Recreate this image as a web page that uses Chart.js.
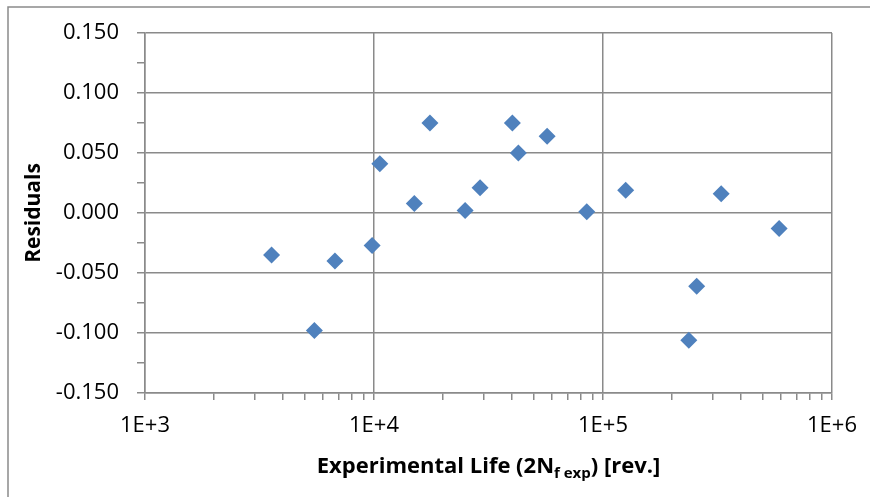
<!DOCTYPE html>
<html lang="en">
  <head>
    <meta charset="UTF-8" />
    <title>Residuals vs Experimental Life</title>
    <style>
      body {
        margin: 0;
        padding: 0;
        background-color: #fff;
      }

      .chart-container {
        width: 870px;
        height: 497px;
        position: relative;
      }
    </style>
  </head>
  <body>
    <div class="chart-container">
      <canvas id="residualChart"></canvas>
    </div>

    <script src="https://cdn.jsdelivr.net/npm/chart.js"></script>
    <script>
      // experimental life 2Nf exp [rev.]
      const lifeValues = [
        3570, 5490, 6750, 9810, 10600, 15000, 17550, 25000, 29050, 40200,
        42700, 57000, 84900, 125600, 236900, 256500, 328100, 587600,
      ];
      const residualValues = [
        -0.035, -0.098, -0.04, -0.027, 0.041, 0.008, 0.075, 0.002, 0.021,
        0.075, 0.05, 0.064, 0.001, 0.019, -0.106, -0.061, 0.016, -0.013,
      ];
      const xDecades = [1e3, 1e4, 1e5, 1e6];
      const yMin = -0.15;
      const yMax = 0.15;

      const fontFamily = "'Open Sans', sans-serif";
      const axisGray = "#8a8a8a";

      function isDecade(v) {
        const l = Math.log10(v);
        return Math.abs(l - Math.round(l)) < 1e-9;
      }

      function isMajorY(v) {
        return Math.abs(v * 20 - Math.round(v * 20)) < 1e-6;
      }

      // frame round the chart and the x title with its subscript
      const decorPlugin = {
        id: "decor",
        beforeDraw(chart) {
          const ctx = chart.ctx;
          ctx.save();
          ctx.fillStyle = "#fff";
          ctx.fillRect(0, 0, chart.width, chart.height);
          ctx.restore();
        },
        afterDraw(chart) {
          const ctx = chart.ctx;
          const area = chart.chartArea;
          ctx.save();
          ctx.strokeStyle = axisGray;
          ctx.lineWidth = 1.5;
          ctx.strokeRect(8, 7, chart.width + 20, chart.height + 20);

          const parts = [
            { text: "Experimental Life (2N", size: 22, dy: 0 },
            { text: "f exp", size: 15, dy: 5 },
            { text: ") [rev.]", size: 22, dy: 0 },
          ];
          let total = 0;
          parts.forEach((p) => {
            ctx.font = "bold " + p.size + "px " + fontFamily;
            p.w = ctx.measureText(p.text).width;
            total += p.w;
          });
          let x = (area.left + area.right) / 2 - total / 2;
          const baseY = 473;
          ctx.fillStyle = "#000";
          ctx.textBaseline = "alphabetic";
          ctx.textAlign = "left";
          parts.forEach((p) => {
            ctx.font = "bold " + p.size + "px " + fontFamily;
            ctx.fillText(p.text, x, baseY + p.dy);
            x += p.w;
          });
          ctx.restore();
        },
      };

      const ctx = document.getElementById("residualChart").getContext("2d");

      new Chart(ctx, {
        type: "scatter",
        data: {
          datasets: [
            {
              label: "Residuals",
              data: lifeValues.map((v, i) => ({ x: v, y: residualValues[i] })),
              pointStyle: "rectRot",
              pointRadius: 8.5,
              pointHoverRadius: 8.5,
              backgroundColor: "#4f81bd",
              borderColor: "#4f81bd",
              borderWidth: 0,
            },
          ],
        },
        options: {
          responsive: true,
          maintainAspectRatio: false,
          animation: false,
          layout: {
            padding: { left: 0, top: 33, right: 30, bottom: 0 },
          },
          scales: {
            x: {
              type: "logarithmic",
              min: xDecades[0],
              max: xDecades[xDecades.length - 1],
              afterBuildTicks(scale) {
                const ticks = [];
                xDecades.forEach((d, i) => {
                  if (i === xDecades.length - 1) {
                    ticks.push({ value: d });
                    return;
                  }
                  for (let k = 1; k < 10; k++) ticks.push({ value: d * k });
                });
                scale.ticks = ticks;
              },
              afterFit(scale) {
                scale.height = 104;
              },
              border: { color: axisGray, width: 1.5 },
              grid: {
                color: (c) =>
                  c.tick && isDecade(c.tick.value) ? axisGray : "rgba(0,0,0,0)",
                tickColor: axisGray,
                lineWidth: 1.5,
                tickLength: 7,
              },
              ticks: {
                autoSkip: false,
                maxRotation: 0,
                padding: 13,
                color: "#000",
                font: { family: fontFamily, size: 22 },
                callback(value) {
                  if (!isDecade(value)) return "";
                  return "1E+" + Math.round(Math.log10(value));
                },
              },
            },
            y: {
              min: yMin,
              max: yMax,
              afterFit(scale) {
                scale.width = 145;
              },
              border: { color: axisGray, width: 1.5 },
              grid: {
                color: (c) =>
                  c.tick && isMajorY(c.tick.value) ? axisGray : "rgba(0,0,0,0)",
                tickColor: axisGray,
                lineWidth: 1.5,
                tickLength: 8,
              },
              title: {
                display: true,
                text: "Residuals",
                color: "#000",
                font: { family: fontFamily, size: 21, weight: "bold" },
                padding: { top: 21, bottom: 0 },
              },
              ticks: {
                stepSize: 0.025,
                autoSkip: false,
                padding: 18,
                color: "#000",
                font: { family: fontFamily, size: 22 },
                callback(value) {
                  if (!isMajorY(value)) return "";
                  const v = Math.abs(value) < 1e-9 ? 0 : value;
                  return v.toFixed(3);
                },
              },
            },
          },
          plugins: {
            legend: { display: false },
            tooltip: { enabled: false },
          },
        },
        plugins: [decorPlugin],
      });
    </script>
  </body>
</html>
